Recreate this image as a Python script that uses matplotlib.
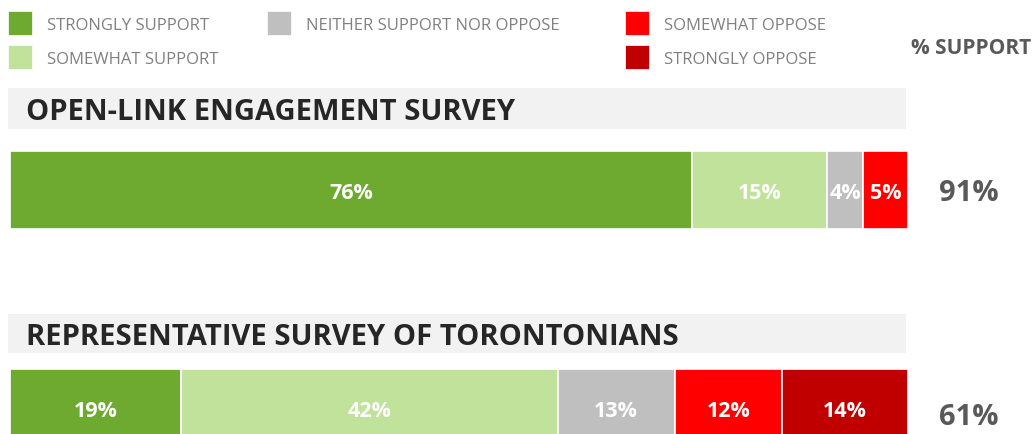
import matplotlib
matplotlib.use("Agg")
import matplotlib.pyplot as plt
from matplotlib.patches import Rectangle
import numpy as np

plt.rcParams['font.family'] = ['Open Sans', 'DejaVu Sans']

# Survey responses (% of respondents)
categories = ["STRONGLY SUPPORT", "SOMEWHAT SUPPORT", "NEITHER SUPPORT NOR OPPOSE",
              "SOMEWHAT OPPOSE", "STRONGLY OPPOSE"]
colors = ["#6EA930", "#C0E29B", "#BFBFBF", "#FF0000", "#C00000"]
surveys = ["OPEN-LINK ENGAGEMENT SURVEY", "REPRESENTATIVE SURVEY OF TORONTONIANS"]
open_link = [76, 15, 4, 5, 0]
representative = [19, 42, 13, 12, 14]
support_total = ["91%", "61%"]

W, H = 1034, 435
fig = plt.figure(figsize=(W / 100, H / 100), dpi=100)

# Overlay axes in pixel units for legend, headings and totals
ov = fig.add_axes([0, 0, 1, 1])
ov.set_xlim(0, W)
ov.set_ylim(H, 0)
ov.axis("off")

# Legend
legend_pos = [(8, 24), (8, 58), (267, 24), (625, 24), (625, 58)]
for (x, y), cat, c in zip(legend_pos, categories, colors):
    ov.add_patch(Rectangle((x, y - 12), 24, 24, facecolor=c, edgecolor="white", lw=0.5))
    ov.text(x + 39, y + 2, cat, ha="left", va="center", fontsize=12, color="#808080")
ov.text(1031, 48, "% SUPPORT", ha="right", va="center", fontsize=15,
        fontweight="bold", color="#595959")

# Section headings
heading_y = [(89, 130), (315, 354)]
for (y0, y1), title in zip(heading_y, surveys):
    ov.add_patch(Rectangle((8, y0), 898, y1 - y0, facecolor="#F2F2F2", edgecolor="none"))
    ov.text(26, (y0 + y1) / 2 + 3, title, ha="left", va="center", fontsize=21,
            fontweight="bold", color="#262626")

# Stacked bars, x in percent
bar_centers = [191, 409]
bar_h = 78
ax = fig.add_axes([10 / W, 0, (908 - 10) / W, 1])
ax.set_xlim(0, 100)
ax.set_ylim(H, 0)
ax.axis("off")

for yc, vals, tot in zip(bar_centers, [open_link, representative], support_total):
    vals = np.array(vals, dtype=float)
    lefts = np.concatenate([[0], np.cumsum(vals)[:-1]])
    for v, l, c in zip(vals, lefts, colors):
        if v <= 0:
            continue
        ax.barh(yc, v, left=l, height=bar_h, color=c, edgecolor="white", linewidth=1.2)
        ax.text(l + v / 2, yc + 3, f"{int(v)}%", ha="center", va="center", fontsize=15.5,
                fontweight="bold", color="white")
    ov.text(939, yc + (9 if yc > 300 else 3), tot, ha="left", va="center", fontsize=21,
            fontweight="bold", color="#595959")

fig.savefig("out.png", dpi=100)
